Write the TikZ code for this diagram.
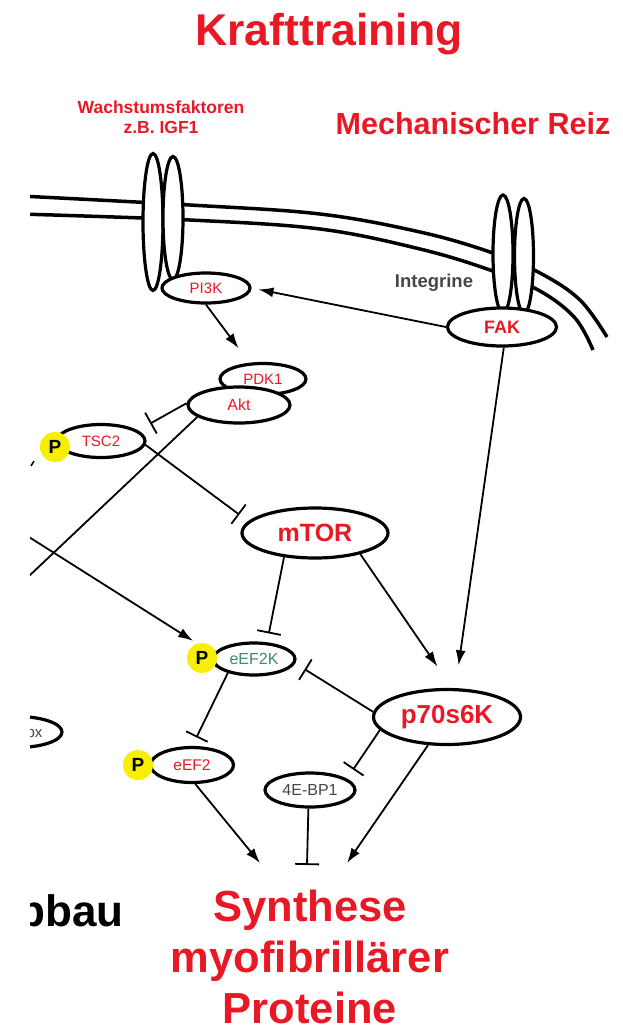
\documentclass[tikz,border=0pt]{standalone}
\usepackage{fontspec}
\setmainfont{Liberation Sans}
\usetikzlibrary{shapes.geometric,arrows.meta,calc}
\definecolor{kred}{RGB}{232,24,36}
\definecolor{pyel}{RGB}{246,240,0}
\definecolor{eteal}{RGB}{60,140,115}
\definecolor{dgray}{RGB}{70,70,70}
\begin{document}
\begin{tikzpicture}[x=1pt,y=-1pt,
  mol/.style={ellipse,draw,line width=3.2pt,fill=white,inner sep=0pt},
  rec/.style={ellipse,draw,line width=3.2pt,fill=white,inner sep=0pt,minimum width=20pt},
  mem/.style={line width=3.5pt},
  act/.style={line width=1.8pt,-{Latex[length=15pt,width=10pt]}},
  inh/.style={line width=1.8pt,-{Bar[width=24pt]}},
  phos/.style={circle,fill=pyel,minimum size=30pt,inner sep=0pt,font=\bfseries\fontsize{19}{19}\selectfont},
  sm/.style={font=\fontsize{15}{15}\selectfont},
  big/.style={font=\bfseries\fontsize{25}{25}\selectfont,text=kred},
]
\useasboundingbox (0,0) rectangle (623,1034);
\begin{scope}
\clip (30,0) rectangle (623,1034);

% titles
\node[anchor=base,font=\bfseries\fontsize{44.5}{44.5}\selectfont,text=kred] (title) at (329,45) {Krafttraining};
\node[anchor=base,font=\bfseries\fontsize{17.5}{20}\selectfont,text=kred,align=center] (gf) at (161,133) {Wachstumsfaktoren\\z.B. IGF1};
\node[anchor=base,font=\bfseries\fontsize{30.5}{30.5}\selectfont,text=kred] (mech) at (473,134) {Mechanischer Reiz};

% membrane
\draw[mem] plot[smooth,tension=0.6] coordinates {(20,196) (190,205) (320,214) (420,232) (490,252) (540,273) (580,300) (607,337)};
\draw[mem] plot[smooth,tension=0.6] coordinates {(20,214) (190,220) (320,229) (420,249) (490,270) (540,291) (575,318) (593,350)};

% receptors
\node[rec,minimum height=137pt] (rl) at (153,222) {};
\node[rec,minimum height=123pt] (rr) at (173,218) {};
\node[rec,minimum height=118pt] (il) at (503,254) {};
\node[rec,minimum height=115pt,minimum width=19pt] (ir) at (524,256) {};

\node[anchor=base,font=\bfseries\fontsize{18.5}{18.5}\selectfont,text=dgray] (integ) at (434,287) {Integrine};

% molecules
\node[mol,minimum width=88pt,minimum height=30pt,sm,text=kred] (pi3k) at (206,288) {PI3K};
\node[mol,minimum width=109pt,minimum height=38pt,font=\bfseries\fontsize{18}{18}\selectfont,text=kred] (fak) at (502,327) {FAK};
\node[mol,minimum width=86pt,minimum height=31pt,sm,text=kred] (pdk1) at (263,379) {PDK1};
\node[mol,minimum width=102pt,minimum height=36pt,font=\fontsize{16}{16}\selectfont,text=kred] (akt) at (239,405) {Akt};
\node[mol,minimum width=88pt,minimum height=33pt,sm,text=kred] (tsc2) at (101,441) {TSC2};
\node[mol,minimum width=146pt,minimum height=50pt,big] (mtor) at (315,533) {mTOR};
\node[mol,minimum width=82pt,minimum height=32pt,font=\fontsize{16}{16}\selectfont,text=eteal] (eef2k) at (254,659) {eEF2K};
\node[mol,minimum width=147pt,minimum height=55pt,font=\bfseries\fontsize{26}{26}\selectfont,text=kred] (p70) at (447,717) {p70s6K};
\node[mol,minimum width=83pt,minimum height=35pt,font=\fontsize{15.5}{15.5}\selectfont,text=kred] (eef2) at (192,765) {eEF2};
\node[mol,minimum width=90pt,minimum height=34pt,font=\fontsize{16}{16}\selectfont,text=dgray] (ebp) at (310,790) {4E-BP1};
\node[mol,minimum width=90pt,minimum height=31pt] (mafbx) at (17,732) {};
\node[anchor=base east,font=\fontsize{15}{15}\selectfont,text=dgray] (mafbxt) at (46,737) {bx};

% phosphates
\node[phos] (pt) at (55,447) {P};
\node[phos] (pk) at (202,658) {P};
\node[phos] (pe) at (138,765) {P};

% output texts
\node[anchor=north,align=center,font=\bfseries\fontsize{43.5}{51}\selectfont,text=kred,inner sep=0pt] (synth) at (310,890) {Synthese\\myofibrillärer\\Proteine};
\node[anchor=base east,font=\bfseries\fontsize{44}{44}\selectfont,inner sep=0pt] (abbau) at (124,926) {bbau};

\coordinate (sL) at (260,863);
\coordinate (sM) at (307,865);
\coordinate (sR) at (347,863);
\coordinate (lout) at (10,594);
\coordinate (lin) at (10,525);

% connectors
\draw[act,shorten >=7pt] (fak.west) -- (pi3k.east);
\draw[act,shorten >=18pt] (pi3k.south) -- (pdk1.130);
\draw[inh,shorten >=14pt] (akt.178) -- (tsc2.16);
\draw[inh,shorten >=11pt] (tsc2.-5) -- (mtor.170);
\draw[line width=1.8pt] (akt.196) -- (lout);
\draw[act,shorten >=5pt] (lin) -- (pk.108);
\draw[inh,shorten >=9pt] (mtor.218) -- (eef2k.52);
\draw[act,shorten >=26pt] (mtor.-25) -- (p70.80);
\draw[act,shorten >=23pt] (fak.-85) -- (p70.74);
\draw[inh,shorten >=11pt] (p70.176) -- (eef2k.-6);
\draw[inh,shorten >=9.5pt] (eef2k.208) -- (eef2.89);
\draw[inh,shorten >=11pt] (p70.191) -- (ebp.17);
\draw[act] (eef2.-80) -- (sL);
\draw[inh] (ebp.-95) -- (sM);
\draw[act] (p70.236) -- (sR);
\draw[line width=1.5pt] (31,466) -- (34,461);
\end{scope}
\end{tikzpicture}
\end{document}
